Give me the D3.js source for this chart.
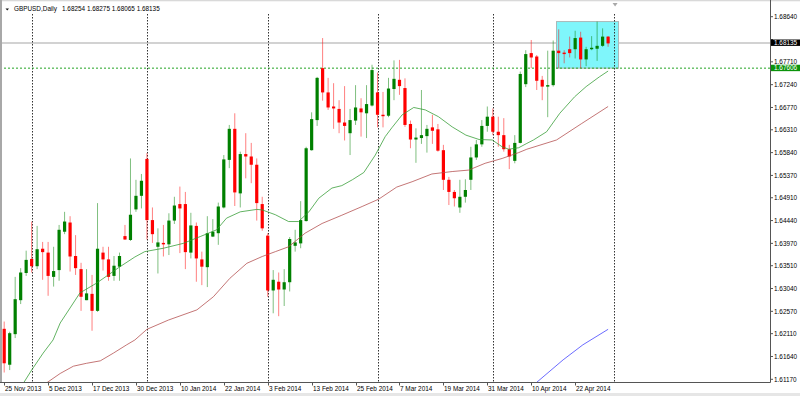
<!DOCTYPE html>
<html>
<head>
<meta charset="utf-8">
<script src="https://cdn.jsdelivr.net/npm/d3@7"></script>
<style>
  html, body { margin: 0; padding: 0; background: #fff; }
  svg { display: block; }
  text { font-family: "Liberation Sans", Arial, sans-serif; font-size: 6.4px; fill: #000; }
</style>
</head>
<body>
<div id="chart"></div>
<script>
// GBPUSD daily bars, 25 Nov 2013 .. end of Apr 2014
const opens = [
  1.6221, 1.6147, 1.6210, 1.6280, 1.6336, 1.6365, 1.6350, 1.6386, 1.6378, 1.6328,
  1.6342, 1.6421, 1.6440, 1.6371, 1.6344, 1.6280, 1.6293, 1.6258, 1.6378, 1.6364,
  1.6330, 1.6349, 1.6412, 1.6404, 1.6467, 1.6495, 1.6571, 1.6445, 1.6390, 1.6398,
  1.6395, 1.6444, 1.6478, 1.6478, 1.6378, 1.6433, 1.6364, 1.6348, 1.6411, 1.6418,
  1.6471, 1.6569, 1.6633, 1.6500, 1.6581, 1.6576, 1.6559, 1.6478, 1.6413, 1.6300,
  1.6318, 1.6302, 1.6317, 1.6392, 1.6397, 1.6443, 1.6589, 1.6651, 1.6758, 1.6708,
  1.6679, 1.6674, 1.6646, 1.6624, 1.6650, 1.6675, 1.6665, 1.6681, 1.6708, 1.6662,
  1.6660, 1.6715, 1.6734, 1.6717, 1.6643, 1.6611, 1.6614, 1.6618, 1.6636, 1.6632,
  1.6589, 1.6528, 1.6503, 1.6471, 1.6493, 1.6528, 1.6574, 1.6601, 1.6639, 1.6658,
  1.6627, 1.6620, 1.6591, 1.6567, 1.6604, 1.6725, 1.6789, 1.6782, 1.6734, 1.6720,
  1.6723, 1.6794, 1.6790, 1.6797, 1.6797, 1.6821, 1.6776, 1.6797, 1.6798, 1.6804,
  1.6823
];
const highs = [
  1.6236, 1.6215, 1.6328, 1.6346, 1.6382, 1.6442, 1.6433, 1.6400, 1.6400, 1.6390,
  1.6435, 1.6462, 1.6453, 1.6414, 1.6357, 1.6344, 1.6332, 1.6480, 1.6390, 1.6390,
  1.6371, 1.6378, 1.6435, 1.6572, 1.6528, 1.6540, 1.6583, 1.6471, 1.6428, 1.6435,
  1.6459, 1.6493, 1.6514, 1.6503, 1.6460, 1.6440, 1.6380, 1.6453, 1.6447, 1.6481,
  1.6579, 1.6641, 1.6665, 1.6586, 1.6624, 1.6604, 1.6572, 1.6493, 1.6418, 1.6342,
  1.6337, 1.6344, 1.6410, 1.6425, 1.6484, 1.6596, 1.6667, 1.6740, 1.6820, 1.6738,
  1.6727, 1.6692, 1.6721, 1.6674, 1.6723, 1.6696, 1.6723, 1.6765, 1.6749, 1.6709,
  1.6738, 1.6774, 1.6775, 1.6737, 1.6650, 1.6634, 1.6713, 1.6641, 1.6662, 1.6643,
  1.6600, 1.6534, 1.6507, 1.6528, 1.6529, 1.6596, 1.6610, 1.6651, 1.6679, 1.6675,
  1.6658, 1.6655, 1.6600, 1.6620, 1.6751, 1.6795, 1.6816, 1.6785, 1.6742, 1.6794,
  1.6815, 1.6838, 1.6795, 1.6823, 1.6835, 1.6833, 1.6802, 1.6824, 1.6854, 1.6840,
  1.6824
];
const lows = [
  1.6131, 1.6136, 1.6202, 1.6272, 1.6330, 1.6337, 1.6344, 1.6322, 1.6289, 1.6308,
  1.6320, 1.6416, 1.6339, 1.6332, 1.6258, 1.6280, 1.6217, 1.6256, 1.6341, 1.6320,
  1.6320, 1.6320, 1.6404, 1.6402, 1.6462, 1.6469, 1.6405, 1.6398, 1.6335, 1.6370,
  1.6373, 1.6437, 1.6377, 1.6344, 1.6366, 1.6318, 1.6311, 1.6307, 1.6410, 1.6394,
  1.6469, 1.6552, 1.6474, 1.6471, 1.6531, 1.6521, 1.6444, 1.6423, 1.6287, 1.6253,
  1.6247, 1.6268, 1.6298, 1.6380, 1.6387, 1.6442, 1.6588, 1.6639, 1.6691, 1.6672,
  1.6633, 1.6624, 1.6609, 1.6579, 1.6641, 1.6617, 1.6614, 1.6679, 1.6636, 1.6636,
  1.6657, 1.6692, 1.6703, 1.6637, 1.6593, 1.6563, 1.6602, 1.6584, 1.6602, 1.6586,
  1.6507, 1.6476, 1.6473, 1.6460, 1.6481, 1.6507, 1.6569, 1.6596, 1.6627, 1.6620,
  1.6596, 1.6586, 1.6550, 1.6562, 1.6603, 1.6719, 1.6758, 1.6713, 1.6692, 1.6657,
  1.6720, 1.6758, 1.6768, 1.6780, 1.6778, 1.6758, 1.6762, 1.6795, 1.6773, 1.6802,
  1.6802
];
const closes = [
  1.6150, 1.6212, 1.6282, 1.6337, 1.6363, 1.6350, 1.6385, 1.6379, 1.6330, 1.6340,
  1.6425, 1.6442, 1.6370, 1.6346, 1.6287, 1.6294, 1.6258, 1.6386, 1.6364, 1.6328,
  1.6351, 1.6371, 1.6405, 1.6456, 1.6495, 1.6526, 1.6445, 1.6416, 1.6399, 1.6395,
  1.6444, 1.6475, 1.6469, 1.6379, 1.6434, 1.6366, 1.6349, 1.6418, 1.6421, 1.6473,
  1.6570, 1.6633, 1.6502, 1.6581, 1.6576, 1.6559, 1.6480, 1.6428, 1.6300, 1.6322,
  1.6302, 1.6317, 1.6406, 1.6399, 1.6445, 1.6593, 1.6653, 1.6738, 1.6708, 1.6677,
  1.6675, 1.6646, 1.6639, 1.6651, 1.6677, 1.6667, 1.6684, 1.6754, 1.6662, 1.6659,
  1.6716, 1.6736, 1.6721, 1.6641, 1.6611, 1.6615, 1.6620, 1.6633, 1.6629, 1.6588,
  1.6528, 1.6503, 1.6490, 1.6493, 1.6507, 1.6574, 1.6601, 1.6639, 1.6658, 1.6627,
  1.6620, 1.6591, 1.6576, 1.6604, 1.6746, 1.6787, 1.6780, 1.6732, 1.6720, 1.6723,
  1.6794, 1.6789, 1.6787, 1.6789, 1.6820, 1.6776, 1.6797, 1.6800, 1.6804, 1.6823,
  1.6809
];

// moving averages as [bar, price]
const maFast = [
  [3, 1.6100], [5, 1.6136], [7.1, 1.6171], [8.9, 1.6198], [10.2, 1.6233], [12, 1.6264],
  [13.8, 1.6295], [16.8, 1.6315], [18.7, 1.6330], [21.1, 1.6349], [23.8, 1.6369],
  [25.6, 1.6380], [29, 1.6387], [32.6, 1.6397], [35.7, 1.6411], [38.7, 1.6425],
  [40.5, 1.6449], [43, 1.6462], [46, 1.6467], [47, 1.6466], [49.4, 1.6456],
  [51.8, 1.6442], [53.6, 1.6442], [55.5, 1.6462], [57.3, 1.6490], [59.7, 1.6511],
  [61.5, 1.6516], [63.4, 1.6528], [65.5, 1.6543], [67.6, 1.6579], [69.4, 1.6617],
  [70.6, 1.6635], [72.5, 1.6662], [74.6, 1.6677], [76.7, 1.6672], [79.1, 1.6658],
  [81.6, 1.6637], [84.1, 1.6620], [86.5, 1.6611], [88.9, 1.6610], [90.7, 1.6596],
  [91.9, 1.6591], [93.7, 1.6594], [95.2, 1.6603], [96.4, 1.6610], [98.8, 1.6627],
  [101.2, 1.6665], [103.9, 1.6699], [106, 1.6720], [108.4, 1.6740], [110, 1.6752]
];
const maSlow = [
  [7, 1.6104], [10.2, 1.6129], [12.6, 1.6144], [15, 1.6150], [17.5, 1.6155],
  [19.9, 1.6171], [22.3, 1.6188], [23.8, 1.6198], [26, 1.6220], [29.9, 1.6239],
  [35.1, 1.6260], [38.1, 1.6287], [41.1, 1.6325], [44.2, 1.6356], [47, 1.6370],
  [49.4, 1.6380], [51.8, 1.6390], [54.8, 1.6418], [57.9, 1.6438], [61.5, 1.6455],
  [65.2, 1.6473], [68.2, 1.6488], [71.5, 1.6513], [74.3, 1.6524], [77.9, 1.6540],
  [81.6, 1.6545], [84.6, 1.6548], [87.6, 1.6562], [90.7, 1.6572], [93.7, 1.6584],
  [95.2, 1.6591], [100.6, 1.6610], [105.2, 1.6644], [110, 1.6679]
];
const maLong = [[96.5, 1.6106], [101.8, 1.6157], [105.4, 1.6188], [110, 1.6220]];

const priceTicks = ["1.68640", "1.68170", "1.67710", "1.67240", "1.66770", "1.66310",
  "1.65840", "1.65370", "1.64910", "1.64440", "1.63970", "1.63510", "1.63040",
  "1.62570", "1.62110", "1.61640", "1.61170"];
const dateBars = [0, 8, 16, 24, 32, 40, 48, 56, 64, 72, 80, 88, 96, 104];
const dateLabels = ["25 Nov 2013", "5 Dec 2013", "17 Dec 2013", "30 Dec 2013", "10 Jan 2014",
  "22 Jan 2014", "3 Feb 2014", "13 Feb 2014", "25 Feb 2014", "7 Mar 2014", "19 Mar 2014",
  "31 Mar 2014", "10 Apr 2014", "22 Apr 2014"];
const separatorBars = [5, 26, 48, 68, 89, 111];

const bidLevel = 1.6810, bidText = "1.68135";
const alertLevel = 1.6758, alertText = "1.67606";
const boxBars = [100.6, 111.9], boxPrices = [1.6854, 1.6758];
const title = "GBPUSD,Daily", titleValues = "1.68254 1.68275 1.68065 1.68135";

const width = 800, height = 396;
const plotRight = 770, plotBottom = 382;

const x = d3.scaleLinear().domain([0, 110]).range([4.2, 608.1]);
const y = d3.scaleLinear().domain([1.61170, 1.68640]).range([379.3, 16.7]);

const svg = d3.select("#chart").append("svg")
  .attr("width", width).attr("height", height);

svg.append("rect").attr("width", width).attr("height", height).attr("fill", "#fff");

svg.append("clipPath").attr("id", "plotClip")
  .append("rect").attr("x", 0).attr("y", 0).attr("width", plotRight).attr("height", plotBottom);

const g = svg.append("g").attr("clip-path", "url(#plotClip)");

// bid line
g.append("line")
  .attr("x1", 0).attr("x2", plotRight)
  .attr("y1", y(bidLevel)).attr("y2", y(bidLevel))
  .attr("stroke", "#d2d2d2").attr("stroke-width", 2);

// rectangle object
g.append("rect")
  .attr("x", x(boxBars[0])).attr("y", y(boxPrices[0]))
  .attr("width", x(boxBars[1]) - x(boxBars[0]))
  .attr("height", y(boxPrices[1]) - y(boxPrices[0]))
  .attr("fill", "#7ff6fb").attr("stroke", "#aab8b8").attr("stroke-width", 1);

// period separators
g.selectAll("line.sep").data(separatorBars).enter().append("line")
  .attr("class", "sep")
  .attr("x1", d => Math.round(x(d)) + 0.5).attr("x2", d => Math.round(x(d)) + 0.5)
  .attr("y1", 14).attr("y2", plotBottom)
  .attr("stroke", "#333").attr("stroke-width", 1).attr("stroke-dasharray", "1.5,1.5");

// alert level
g.append("line")
  .attr("x1", 0).attr("x2", plotRight)
  .attr("y1", y(alertLevel)).attr("y2", y(alertLevel))
  .attr("stroke", "#22a322").attr("stroke-width", 1).attr("stroke-dasharray", "2,2");

// candles
const bars = opens.map((o, i) => ({ i, o, h: highs[i], l: lows[i], c: closes[i] }));
const colorOf = d => d.c >= d.o ? "#008000" : "#ff0000";

g.selectAll("line.wick").data(bars).enter().append("line")
  .attr("class", "wick")
  .attr("x1", d => x(d.i)).attr("x2", d => x(d.i))
  .attr("y1", d => y(d.h)).attr("y2", d => y(d.l))
  .attr("stroke", colorOf).attr("stroke-width", 1).attr("stroke-opacity", 0.5);

g.selectAll("rect.body").data(bars).enter().append("rect")
  .attr("class", "body")
  .attr("x", d => x(d.i) - 1.6).attr("width", 3.2)
  .attr("y", d => y(Math.max(d.o, d.c)))
  .attr("height", d => Math.max(1, Math.abs(y(d.o) - y(d.c))))
  .attr("fill", colorOf);

// moving averages
const line = d3.line().x(d => x(d[0])).y(d => y(d[1]));
[[maFast, "#2f9a2f"], [maSlow, "#b04848"], [maLong, "#3a3aff"]].forEach(([pts, col]) => {
  g.append("path").attr("d", line(pts))
    .attr("fill", "none").attr("stroke", col).attr("stroke-width", 1).attr("stroke-opacity", 0.75);
});

// shift marker
const sx = x(separatorBars[separatorBars.length - 1]) + 1.5;
svg.append("path")
  .attr("d", `M${sx - 2.5},3 L${sx + 2.5},3 L${sx},6.5 Z`)
  .attr("fill", "#a8a8a8");

// borders
svg.append("rect").attr("x", 0).attr("y", 0).attr("width", width).attr("height", 1.3).attr("fill", "#d9d9d9");
svg.append("rect").attr("x", 0).attr("y", 0).attr("width", 2).attr("height", plotBottom).attr("fill", "#a8a8a8");
svg.append("line").attr("x1", plotRight + 0.5).attr("x2", plotRight + 0.5).attr("y1", 0).attr("y2", plotBottom + 0.5)
  .attr("stroke", "#555");
svg.append("line").attr("x1", 0).attr("x2", plotRight + 0.5).attr("y1", plotBottom + 0.5).attr("y2", plotBottom + 0.5)
  .attr("stroke", "#555");
svg.append("rect").attr("x", 0).attr("y", 393).attr("width", width).attr("height", 3).attr("fill", "#e6e6e6");

// price axis (a label sitting under the bid box is covered, as in the terminal)
const yAxis = svg.append("g");
priceTicks.forEach(t => {
  const ty = y(+t);
  yAxis.append("line").attr("x1", plotRight).attr("x2", plotRight + 3)
    .attr("y1", ty).attr("y2", ty).attr("stroke", "#555");
  if (Math.abs(ty - y(bidLevel)) > 5) {
    yAxis.append("text").attr("x", plotRight + 4).attr("y", ty + 2.3).text(t);
  }
});

// price boxes
[[bidLevel, bidText, "#000"], [alertLevel, alertText, "#0b930b"]].forEach(([lv, txt, bg]) => {
  const ty = y(lv);
  svg.append("rect").attr("x", plotRight + 1).attr("y", ty - 3.4)
    .attr("width", width - plotRight - 1).attr("height", 6.4).attr("fill", bg);
  svg.append("text").attr("x", plotRight + 4).attr("y", ty + 2.2)
    .style("fill", "#fff").text(txt);
});

// time axis
dateBars.forEach((b, k) => {
  const tx = Math.round(x(b)) + 0.5;
  svg.append("line").attr("x1", tx).attr("x2", tx)
    .attr("y1", plotBottom).attr("y2", plotBottom + 3.5).attr("stroke", "#555");
  svg.append("text").attr("x", tx + 0.5).attr("y", 391).text(dateLabels[k]);
});

// title
svg.append("path").attr("d", "M5.5,8.5 L9,8.5 L7.25,10.6 Z").attr("fill", "#111");
svg.append("text").attr("x", 14).attr("y", 11).text(title);
svg.append("text").attr("x", 62).attr("y", 11).text(titleValues);
</script>
</body>
</html>
